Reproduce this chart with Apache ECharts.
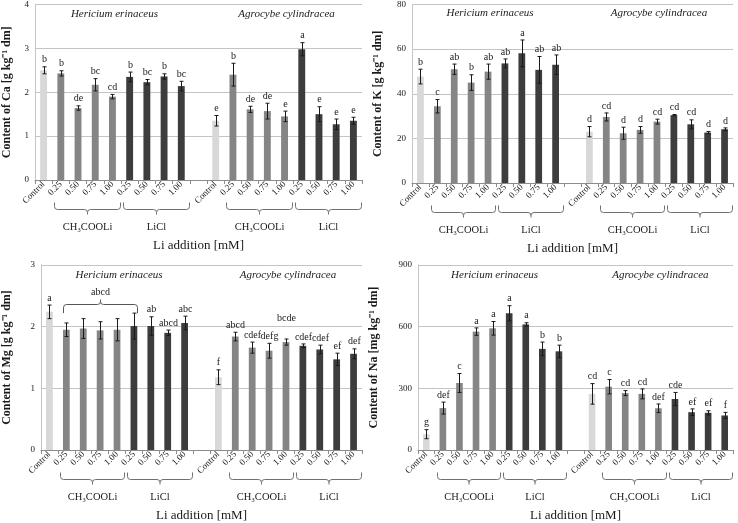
<!DOCTYPE html>
<html><head><meta charset="utf-8">
<script src="https://cdn.jsdelivr.net/npm/echarts@6/dist/echarts.min.js"></script>
<style>html,body{margin:0;padding:0;background:#fff}#c{width:738px;height:523px}</style>
</head><body><div id="c"></div>
<script>
// ---- categories ----
const doses = ['Control','0.25','0.50','0.75','1.00','0.25','0.50','0.75','1.00'];
const species = ['Hericium erinaceus','Agrocybe cylindracea'];
const salts = ['CH₃COOLi','LiCl'];
const xTitle = 'Li addition [mM]';

// ---- Ca [g/kg] ----
const caHer    = [2.50,2.43,1.64,2.17,1.90,2.35,2.23,2.36,2.14];
const caHerErr = [0.08,0.06,0.05,0.14,0.05,0.11,0.06,0.06,0.11];
const caHerLet = ['b','b','de','bc','cd','b','bc','b','bc'];
const caAgr    = [1.35,2.40,1.61,1.57,1.45,2.98,1.50,1.27,1.35];
const caAgrErr = [0.12,0.26,0.07,0.18,0.12,0.15,0.17,0.12,0.08];
const caAgrLet = ['e','b','de','de','e','a','e','e','e'];

// ---- K [g/kg] ----
const kHer    = [47.7,34.4,51.0,45.0,49.9,53.6,58.1,50.7,53.0];
const kHerErr = [3.3,3.0,2.3,3.5,3.4,2.0,6.0,6.0,4.4];
const kHerLet = ['b','c','ab','b','ab','ab','a','ab','ab'];
const kAgr    = [23.0,29.6,22.3,23.8,27.5,30.4,26.3,22.6,24.1];
const kAgrErr = [2.3,1.8,2.7,1.5,1.1,0.3,2.0,0.5,0.6];
const kAgrLet = ['d','cd','d','d','cd','cd','cd','d','d'];

// ---- Mg [g/kg] ----
const mgHer    = [2.24,1.95,1.97,1.94,1.95,2.01,2.01,1.90,2.06];
const mgHerErr = [0.11,0.11,0.16,0.14,0.18,0.21,0.15,0.045,0.11];
const mgHerLet = ['a','','','','','','ab','abcd','abc'];
const mgHerGroup = {from:1, to:5, letters:'abcd'};
const mgAgr    = [1.18,1.84,1.66,1.61,1.75,1.69,1.63,1.47,1.56];
const mgAgrErr = [0.12,0.07,0.09,0.12,0.05,0.03,0.07,0.10,0.08];
const mgAgrLet = ['f','abcd','cdef','defg','bcde','cdef','cdef','ef','def'];

// ---- Na [mg/kg] ----
const naHer    = [77,204,326,576,592,665,611,492,480];
const naHerErr = [22,29,46,18,33,37,8,33,30];
const naHerLet = ['g','def','c','a','a','a','a','b','b'];
const naAgr    = [273,308,277,273,203,248,184,181,168];
const naAgrErr = [50,35,12,24,21,32,16,10,15];
const naAgrLet = ['cd','c','cd','cd','def','cde','ef','ef','f'];

const SERIF = "'Liberation Serif','Times New Roman',serif";
const COLORS = {control:'#d8d8d8', ch:'#858585', li:'#3d3d3d'};
const INK = '#1a1a1a';

const panels = [
  {grid:{left:33, top:4, width:329, height:176}, max:4, interval:1, name:'Content of Ca [g kg⁻¹ dm]', nameGap:22,
   her:caHer, herErr:caHerErr, herLet:caHerLet, agr:caAgr, agrErr:caAgrErr, agrLet:caAgrLet, lift:{}},
  {grid:{left:412, top:3, width:321, height:180}, max:80, interval:20, name:'Content of K [g kg⁻¹ dm]', nameGap:28,
   her:kHer, herErr:kHerErr, herLet:kHerLet, agr:kAgr, agrErr:kAgrErr, agrLet:kAgrLet, lift:{}},
  {grid:{left:37, top:265, width:325, height:186}, max:3, interval:1, name:'Content of Mg [g kg⁻¹ dm]', nameGap:28,
   her:mgHer, herErr:mgHerErr, herLet:mgHerLet, agr:mgAgr, agrErr:mgAgrErr, agrLet:mgAgrLet, lift:{14:14}, group:mgHerGroup},
  {grid:{left:418, top:265, width:315, height:187}, max:900, interval:300, name:'Content of Na [mg kg⁻¹ dm]', nameGap:38,
   her:naHer, herErr:naHerErr, herLet:naHerLet, agr:naAgr, agrErr:naAgrErr, agrLet:naAgrLet, lift:{}}
];

// category list: 9 Hericium + gap + 9 Agrocybe
const cats = [];
const catLabels = [];
doses.forEach((d,i)=>{cats.push('H'+i); catLabels.push(d);});
cats.push('gap'); catLabels.push('');
doses.forEach((d,i)=>{cats.push('A'+i); catLabels.push(d);});

function doseColor(i){ return i===0?COLORS.control:(i<=4?COLORS.ch:COLORS.li); }

function makeRender(letters, lift){
  return function(params, api){
    const idx = api.value(0), v = api.value(1), e = api.value(2);
    const top = api.coord([idx, v+e]), bot = api.coord([idx, v-e]);
    const x = Math.round(top[0])+0.5, cw = 2;
    const st = {stroke:INK, lineWidth:1};
    const ch = [
      {type:'line', shape:{x1:x, y1:top[1], x2:x, y2:bot[1]}, style:st},
      {type:'line', shape:{x1:x-cw, y1:top[1], x2:x+cw, y2:top[1]}, style:st},
      {type:'line', shape:{x1:x-cw, y1:bot[1], x2:x+cw, y2:bot[1]}, style:st}
    ];
    const t = letters[idx];
    if (t) ch.push({type:'text', style:{text:t, x:x, y:top[1]-2-(lift[idx]||0), align:'center', verticalAlign:'bottom',
      fontFamily:SERIF, fontSize:10, fill:INK}});
    return {type:'group', children:ch};
  };
}

const grids=[], xAxes=[], yAxes=[], series=[];
panels.forEach((p,pi)=>{
  grids.push(p.grid);
  xAxes.push({type:'category', gridIndex:pi, data:cats,
    axisLine:{lineStyle:{color:'#8c8c8c'}},
    axisTick:{show:true, length:4, interval:0, lineStyle:{color:'#8c8c8c'}},
    axisLabel:{interval:0, rotate:45, margin:3, fontFamily:SERIF, fontSize:9, color:INK,
      formatter:(v,i)=>catLabels[i]},
    name:xTitle, nameLocation:'middle', nameGap:59,
    nameTextStyle:{fontFamily:SERIF, fontSize:13, color:INK}});
  yAxes.push({type:'value', gridIndex:pi, min:0, max:p.max, interval:p.interval,
    axisLine:{show:true, lineStyle:{color:'#c4c4c4'}}, axisTick:{show:false},
    axisLabel:{fontFamily:SERIF, fontSize:9, color:INK, margin:6},
    splitLine:{lineStyle:{color:'#c4c4c4'}},
    name:p.name, nameLocation:'middle', nameGap:p.nameGap,
    nameTextStyle:{fontFamily:SERIF, fontSize:12, fontWeight:'bold', color:INK}});
  const vals = [...p.her, null, ...p.agr];
  const errs = [...p.herErr, null, ...p.agrErr];
  const lets = [...p.herLet, '', ...p.agrLet];
  series.push({type:'bar', xAxisIndex:pi, yAxisIndex:pi, barWidth:'40%', silent:true,
    data: vals.map((v,i)=> v==null?null:{value:v, itemStyle:{color:doseColor(i<9?i:i-10)}})});
  const ed = [];
  vals.forEach((v,i)=>{ if(v!=null) ed.push([i, v, errs[i]]); });
  series.push({type:'custom', xAxisIndex:pi, yAxisIndex:pi, z:5, silent:true, data:ed,
    encode:{x:0, y:1}, renderItem:makeRender(lets, p.lift)});
});

const chart = echarts.init(document.getElementById('c'));
chart.setOption({animation:false, grid:grids, xAxis:xAxes, yAxis:yAxes, series:series});

// brace built from lines and quadratic curves
function brace(x1, x2, yEnd, yH, yTip, color){
  const r = 3, xm = (x1+x2)/2;
  const st = {fill:null, stroke:color, lineWidth:1};
  const s = yTip > yH ? 1 : -1;
  const endDir = yEnd > yH ? 1 : -1;
  return [
    {type:'line', silent:true, shape:{x1:x1, y1:yEnd, x2:x1, y2:yH+endDir*r}, style:st},
    {type:'bezierCurve', silent:true, shape:{x1:x1, y1:yH+endDir*r, cpx1:x1, cpy1:yH, x2:x1+r, y2:yH}, style:st},
    {type:'line', silent:true, shape:{x1:x1+r, y1:yH, x2:xm-r, y2:yH}, style:st},
    {type:'bezierCurve', silent:true, shape:{x1:xm-r, y1:yH, cpx1:xm, cpy1:yH, x2:xm, y2:yH+s*r}, style:st},
    {type:'line', silent:true, shape:{x1:xm, y1:yH+s*r, x2:xm, y2:yTip}, style:st},
    {type:'bezierCurve', silent:true, shape:{x1:xm, y1:yH+s*r, cpx1:xm, cpy1:yH, x2:xm+r, y2:yH}, style:st},
    {type:'line', silent:true, shape:{x1:xm+r, y1:yH, x2:x2-r, y2:yH}, style:st},
    {type:'bezierCurve', silent:true, shape:{x1:x2-r, y1:yH, cpx1:x2, cpy1:yH, x2:x2, y2:yH+endDir*r}, style:st},
    {type:'line', silent:true, shape:{x1:x2, y1:yH+endDir*r, x2:x2, y2:yEnd}, style:st}
  ];
}

// ---- annotations: species titles, treatment braces ----
const graphic = [];
panels.forEach((p,pi)=>{
  const cx = i => chart.convertToPixel({xAxisIndex:pi}, i);
  const cy = v => chart.convertToPixel({yAxisIndex:pi}, v);
  const slot = cx(1)-cx(0);
  const y0 = cy(0);
  [4,14].forEach((ci,si)=>{
    graphic.push({type:'text', silent:true, style:{text:species[si], x:cx(ci)+2, y:p.grid.top+10, align:'center', verticalAlign:'middle',
      fontFamily:SERIF, fontSize:11, fontStyle:'italic', fill:INK}});
  });
  [[1,4,0],[5,8,1],[11,14,0],[15,18,1]].forEach(([a,b,s])=>{
    const x1 = Math.round(cx(a)-slot/2+2)+0.5, x2 = Math.round(cx(b)+slot/2-1)+0.5;
    const yH = Math.round(y0+29)+0.5;
    brace(x1, x2, yH-7, yH, yH+5, '#6f6f6f').forEach(e=>graphic.push(e));
    graphic.push({type:'text', silent:true, style:{text:salts[s], x:(x1+x2)/2, y:y0+47, align:'center', verticalAlign:'middle',
      fontFamily:SERIF, fontSize:10.5, fill:INK}});
  });
  if (p.group){
    const g = p.group;
    let mx = 0;
    for (let i=g.from;i<=g.to;i++) mx = Math.max(mx, p.her[i]+p.herErr[i]);
    const bw = slot*0.4;
    const x1 = Math.round(cx(g.from)-bw/2)+0.5, x2 = Math.round(cx(g.to)+bw/2)+0.5;
    const yE = cy(mx), yH = Math.round(yE-9)+0.5;
    brace(x1, x2, yE, yH, yH-5, '#555').forEach(e=>graphic.push(e));
    graphic.push({type:'text', silent:true, style:{text:g.letters, x:(x1+x2)/2, y:yH-7, align:'center', verticalAlign:'bottom',
      fontFamily:SERIF, fontSize:10, fill:INK}});
  }
});
chart.setOption({graphic:{elements:graphic}});
</script>
</body></html>
